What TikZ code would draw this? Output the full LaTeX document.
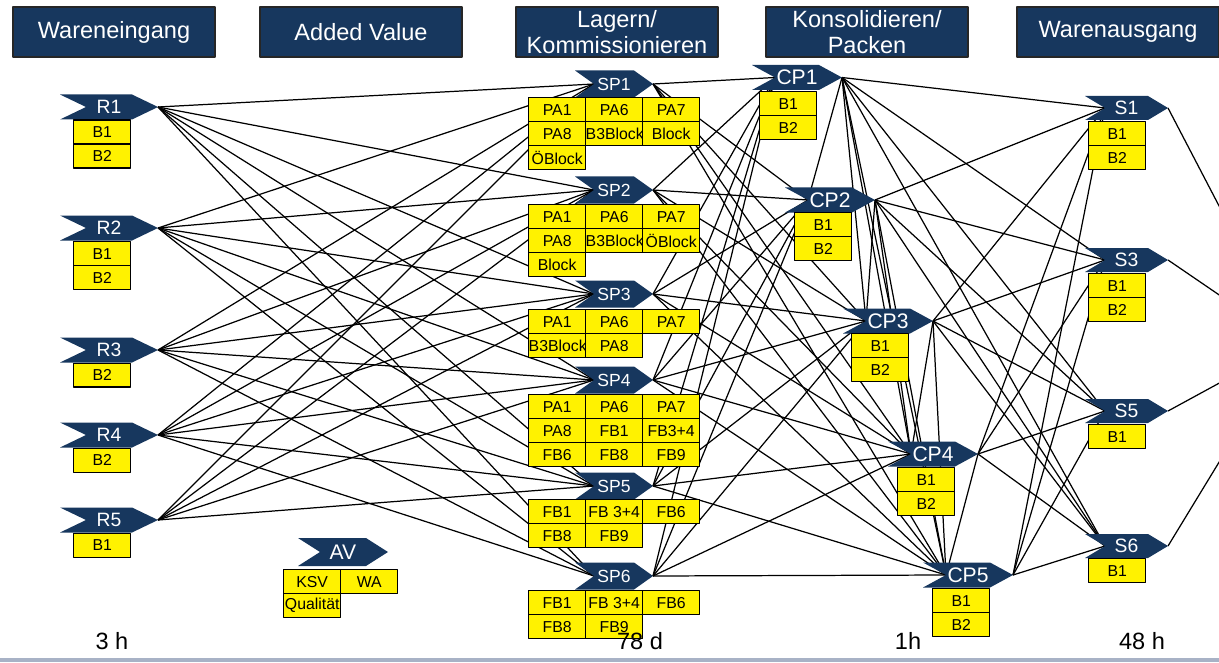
\documentclass[tikz,border=0pt]{standalone}
\usepackage{fontspec}
\setmainfont{Liberation Sans}
\usetikzlibrary{backgrounds}
\definecolor{navy}{RGB}{23,55,94}
\definecolor{strip}{RGB}{168,178,198}
\tikzset{
	head/.style={draw=black!85, line width=0.8pt, fill=navy, minimum width=4.04cm, minimum height=1cm, inner sep=0pt},
	headtxt/.style={text=white, align=center, inner sep=0pt, font=\fontsize{13.4}{14.7}\selectfont},
	cellbox/.style={draw, line width=0.8pt, fill=yellow, anchor=north west, minimum width=1.14cm, minimum height=0.48cm, inner sep=0pt, font=\fontsize{9}{9}\selectfont},
	conn/.style={line width=0.7pt},
	lbl/.style={text=white, inner sep=0pt, font=\fontsize{#1}{#1}\selectfont},
	foot/.style={inner sep=0pt, font=\fontsize{13.4}{14}\selectfont}
}
% chevron: name, left x, tip x, mid y, half height, depth, font size
\newcommand{\chev}[7]{%
	\fill[navy] (#2,#4-#5) -- (#3-#6,#4-#5) -- (#3,#4) -- (#3-#6,#4+#5) -- (#2,#4+#5) -- (#2+#6,#4) -- cycle;
	\coordinate (#1-in) at (#2+#6,#4);
	\coordinate (#1-out) at (#3,#4);
	\node[lbl=#7] (#1) at ({(#2+#3)/2},#4) {#1};}
% cells: name, left x, top y, columns, texts
\newcommand{\cells}[5]{%
	\foreach \txt [count=\n from 0] in {#5}{%
		\pgfmathtruncatemacro\cx{mod(\n,#4)}%
		\pgfmathtruncatemacro\ry{\n/#4}%
		\node[cellbox] (#1-\n) at (#2+\cx*57,#3+\ry*24) {\txt};}}
\begin{document}
\begin{tikzpicture}[x=0.02cm, y=-0.02cm, line join=round]
	\useasboundingbox (0,0) rectangle (1219,662);
	\fill[strip] (0,658) rectangle (1219,662);
	% Kopfzeile
	\node[head] (h1) at (114,32) {\fontsize{13.4}{14.7}\selectfont\color{white}Wareneingang};
	\node[head] (h2) at (361,32) {\fontsize{13.4}{14.7}\selectfont\color{white}Added Value};
	\node[head] (h3) at (617,32) {};
	\node[headtxt] (h3t) at (617,32) {Lagern/\\Kommissionieren};
	\node[head] (h4) at (867,32) {};
	\node[headtxt] (h4t) at (867,32) {Konsolidieren/\\Packen};
	\node[head] (h5) at (1118,32) {\fontsize{13.4}{14.7}\selectfont\color{white}Warenausgang};
	% Wareneingang
	\chev{R1}{60}{158}{107}{12.5}{26}{11}
	\chev{R2}{60}{158}{228}{12.5}{26}{11}
	\chev{R3}{60}{158}{350}{12.5}{26}{11}
	\chev{R4}{60}{158}{435}{12.5}{26}{11}
	\chev{R5}{60}{158}{520}{12.5}{26}{11}
	% Lager
	\chev{SP1}{575}{653}{84}{13.5}{19}{10}
	\chev{SP2}{575}{653}{190}{13.5}{19}{10}
	\chev{SP3}{575}{653}{294}{13.5}{19}{10}
	\chev{SP4}{575}{653}{380}{13.5}{19}{10}
	\chev{SP5}{575}{653}{486}{13.5}{19}{10}
	\chev{SP6}{575}{653}{576}{13.5}{19}{10}
	% Packen
	\chev{CP1}{752}{842}{77.5}{12.5}{23}{12}
	\chev{CP2}{785}{875}{200}{12.5}{23}{12}
	\chev{CP3}{843}{933}{321}{12.5}{23}{12}
	\chev{CP4}{888}{978}{454}{12.5}{23}{12}
	\chev{CP5}{923}{1013}{575}{12.5}{23}{12}
	% Warenausgang
	\chev{S1}{1085}{1168}{108}{12}{20}{11}
	\chev{S3}{1085}{1168}{260}{12}{20}{11}
	\chev{S5}{1085}{1168}{411}{12}{20}{11}
	\chev{S6}{1085}{1168}{546}{12}{20}{11}
	\chev{AV}{298}{388}{552}{14}{22}{12}
	\coordinate (kunde) at (1291,344);
	\begin{scope}[on background layer]
		\clip (0,0) rectangle (1219,662);
		\foreach \i in {1,...,4}
			\foreach \j in {1,...,6} \draw[conn] (R\i-out) -- (SP\j-in);
		\foreach \j in {1,...,5} \draw[conn] (R5-out) -- (SP\j-in);
		\foreach \j in {1,...,6}
			\foreach \k in {1,...,5} \draw[conn] (SP\j-out) -- (CP\k-in);
		\foreach \k [evaluate=\k as \nk using int(\k+1)] in {1,...,4}
			\foreach \l in {\nk,...,5} \draw[conn] (CP\k-out) -- (CP\l-in);
		\foreach \k in {1,...,5}
			\foreach \m in {1,3,5,6} \draw[conn] (CP\k-out) -- (S\m-in);
		\foreach \m in {1,3,5,6} \draw[conn] (S\m-out) -- (kunde);
	\end{scope}
	% Bestaende
	\cells{R1b}{73}{119.5}{1}{B1,B2}
	\cells{R2b}{73}{241}{1}{B1,B2}
	\cells{R3b}{73}{362.5}{1}{B2}
	\cells{R4b}{73}{447.5}{1}{B2}
	\cells{R5b}{73}{532.5}{1}{B1}
	\cells{SP1b}{528}{97}{3}{PA1,PA6,PA7,PA8,B3Block,Block,ÖBlock}
	\cells{SP2b}{528}{204}{3}{PA1,PA6,PA7,PA8,B3Block,ÖBlock,Block}
	\cells{SP3b}{528}{309}{3}{PA1,PA6,PA7,B3Block,PA8}
	\cells{SP4b}{528}{394}{3}{PA1,PA6,PA7,PA8,FB1,FB3+4,FB6,FB8,FB9}
	\cells{SP5b}{528}{499}{3}{FB1,FB 3+4,FB6,FB8,FB9}
	\cells{SP6b}{528}{590}{3}{FB1,FB 3+4,FB6,FB8,FB9}
	\cells{CP1b}{759}{91}{1}{B1,B2}
	\cells{CP2b}{794}{212}{1}{B1,B2}
	\cells{CP3b}{851}{333}{1}{B1,B2}
	\cells{CP4b}{897}{467}{1}{B1,B2}
	\cells{CP5b}{932}{588}{1}{B1,B2}
	\cells{S1b}{1088}{121}{1}{B1,B2}
	\cells{S3b}{1088}{273}{1}{B1,B2}
	\cells{S5b}{1088}{424}{1}{B1}
	\cells{S6b}{1088}{558}{1}{B1}
	\cells{AVb}{283}{569}{2}{KSV,WA,Qualität}
	% Zeiten
	\node[foot] (t1) at (112,641) {3 h};
	\node[foot] (t2) at (640,641) {78 d};
	\node[foot] (t3) at (908,641) {1h};
	\node[foot] (t4) at (1142,641) {48 h};
\end{tikzpicture}
\end{document}
